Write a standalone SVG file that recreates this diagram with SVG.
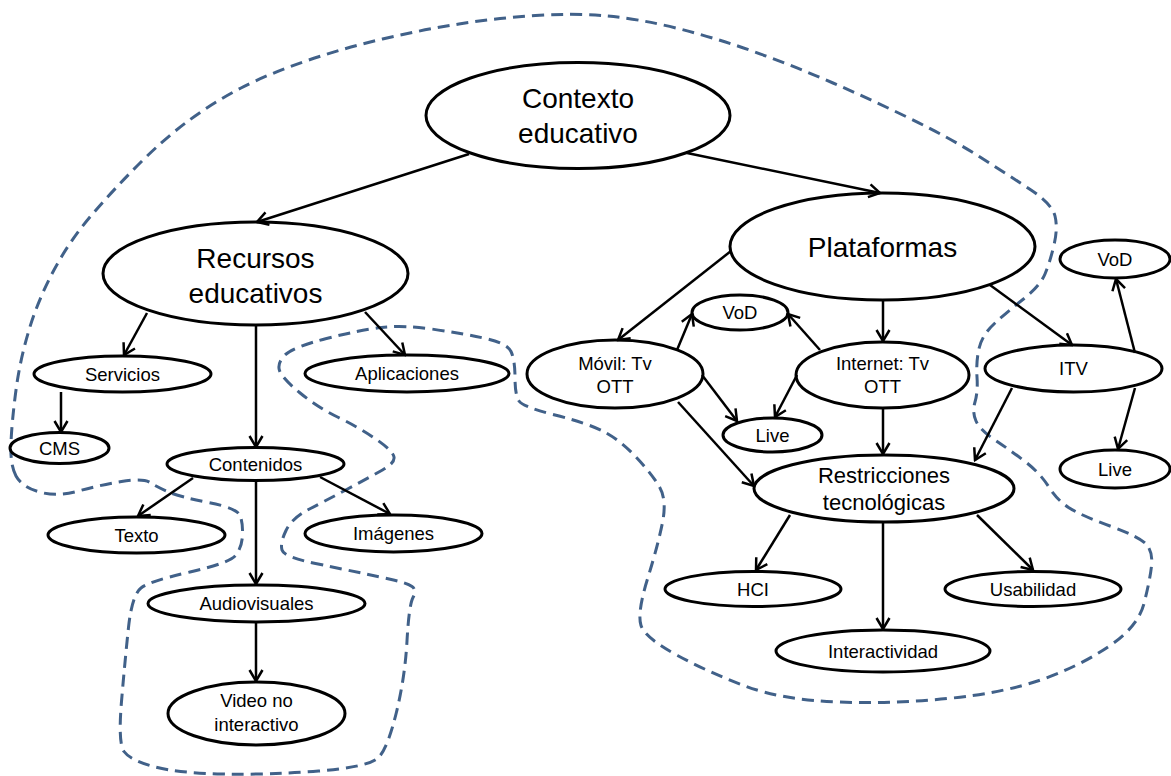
<svg xmlns="http://www.w3.org/2000/svg" width="1171" height="776" viewBox="0 0 1171 776">
  <defs>
    <style>
      .node ellipse { fill: #fff; stroke: #000; stroke-width: 3; }
      text { font-family: "Liberation Sans", Arial, sans-serif; fill: #000; text-anchor: middle; }
      .l { font-size: 28px; }
      .m { font-size: 22px; }
      .s { font-size: 18.5px; }
      #connectors line { stroke: #000; stroke-width: 2.5; marker-end: url(#arr); }
      .zone { fill: none; stroke: #416189; stroke-width: 3; stroke-dasharray: 12 7; stroke-linecap: butt; }
    </style>
    <marker id="arr" markerUnits="userSpaceOnUse" markerWidth="14" markerHeight="16" refX="12" refY="8" orient="auto" viewBox="0 0 14 16">
      <path d="M1,1.5 L12,8 L1,14.5" fill="none" stroke="#000" stroke-width="2.5" stroke-linejoin="miter"/>
    </marker>
  </defs>

  <rect width="1171" height="776" fill="#fff"/>

  <!-- dashed boundary enclosing the grouped concepts -->
  <path class="zone" d="M16,476
    Q10,465 11,442.5 Q12,420 16,390 Q20,360 29,330 Q38,300 54,270 Q70,240 92.5,214
    Q115,188 140,163 Q165,138 189.5,120 Q214,102 241,88 Q268,74 306,61 Q344,48 382.5,39
    Q421,30 459,24 Q497,18 535.5,15.5 Q574,13 607,16 Q640,19 678,28.5 Q716,38 755,52
    Q794,66 833,83 Q872,100 911,119 Q950,138 980,157 Q1010,176 1031,190 Q1052,204 1055,216
    Q1058,228 1054,245 Q1050,262 1045,274 Q1040,286 1023.5,299 Q1007,312 994.5,323.5
    Q982,335 979,348.5 Q976,362 977,377 Q978,392 975,402 Q972,412 976,421 Q980,430 995,440
    Q1010,450 1025,461.5 Q1040,473 1048.5,486.5 Q1057,500 1068.5,507.5 Q1080,515 1110,526
    Q1140,537 1146.5,544.5 Q1153,552 1151.5,566 Q1150,580 1144,603.5 Q1138,627 1108,647
    Q1078,667 1040.5,680 Q1003,693 948,698.5 Q893,704 838,702 Q783,700 746.5,686.5
    Q710,673 677.5,655.5 Q645,638 641,625.5 Q637,613 647.5,579 Q658,545 662.5,522.5
    Q667,500 659.5,487 Q652,474 636,457 Q620,440 603.5,431.5 Q587,423 555,415
    Q523,407 519,401 Q515,395 515,377.5 Q515,360 511,351.5 Q507,343 483.5,338
    Q460,333 431.5,329 Q403,325 381.5,327.5 Q360,330 326.5,338.5 Q293,347 285,355
    Q277,363 279.5,370.5 Q282,378 299.5,392.5 Q317,407 338.5,417.5 Q360,428 376.5,439.5
    Q393,451 394,457 Q395,463 382.5,470 Q370,477 348.5,488.5 Q327,500 309.5,509
    Q292,518 286,530.5 Q280,543 282,550 Q284,557 315.5,563.5 Q347,570 363.5,573.5
    Q380,577 393.5,580 Q407,583 412,586.5 Q417,590 413,597.5 Q409,605 407,641
    Q405,677 396.5,712 Q388,747 379,757 Q370,767 318.5,771 Q267,775 222,774
    Q177,773 153.5,766.5 Q130,760 124,751.5 Q118,743 121.5,701.5 Q125,660 128.5,627.5
    Q132,595 141,588 Q150,581 190,572 Q230,563 236,555 Q242,547 242.5,535
    Q243,523 240,515.5 Q237,508 208.5,502.5 Q180,497 168.5,492 Q157,487 150,482.5
    Q143,478 121.5,481.5 Q100,485 78.5,491 Q57,497 39.5,492 Q22,487 16,476 Z"/>

  <!-- nodes -->
  <g id="contexto" class="node">
    <ellipse cx="578" cy="115.5" rx="152" ry="53"/>
    <text class="l" x="578" y="108">Contexto</text>
    <text class="l" x="578" y="143">educativo</text>
  </g>
  <g id="recursos" class="node">
    <ellipse cx="255.5" cy="273.5" rx="152.5" ry="51.5"/>
    <text class="l" x="255.5" y="268">Recursos</text>
    <text class="l" x="255.5" y="303">educativos</text>
  </g>
  <g id="plataformas" class="node">
    <ellipse cx="882.5" cy="246.5" rx="152.5" ry="53.5"/>
    <text class="l" x="882.5" y="257">Plataformas</text>
  </g>
  <g id="servicios" class="node">
    <ellipse cx="122.5" cy="374" rx="88.5" ry="18"/>
    <text class="s" x="122.5" y="380.5">Servicios</text>
  </g>
  <g id="aplicaciones" class="node">
    <ellipse cx="407" cy="373.5" rx="102" ry="18.5"/>
    <text class="s" x="407" y="380">Aplicaciones</text>
  </g>
  <g id="cms" class="node">
    <ellipse cx="59.5" cy="448" rx="49.5" ry="15.5"/>
    <text class="s" x="59.5" y="454.5">CMS</text>
  </g>
  <g id="contenidos" class="node">
    <ellipse cx="255.5" cy="464" rx="88.5" ry="16.5"/>
    <text class="s" x="255.5" y="470.5">Contenidos</text>
  </g>
  <g id="texto" class="node">
    <ellipse cx="136.5" cy="535" rx="88.5" ry="18"/>
    <text class="s" x="136.5" y="541.5">Texto</text>
  </g>
  <g id="imagenes" class="node">
    <ellipse cx="393.5" cy="533.5" rx="88.5" ry="18.5"/>
    <text class="s" x="393.5" y="540">Imágenes</text>
  </g>
  <g id="audiovisuales" class="node">
    <ellipse cx="256.5" cy="603.5" rx="108.5" ry="18.5"/>
    <text class="s" x="256.5" y="610">Audiovisuales</text>
  </g>
  <g id="video" class="node">
    <ellipse cx="256.5" cy="713.5" rx="88.5" ry="31.5"/>
    <text class="s" x="256.5" y="707">Video no</text>
    <text class="s" x="256.5" y="731">interactivo</text>
  </g>
  <g id="movil" class="node">
    <ellipse cx="615" cy="374" rx="88" ry="34"/>
    <text class="s" x="615" y="370">Móvil: Tv</text>
    <text class="s" x="615" y="393">OTT</text>
  </g>
  <g id="vod-ott" class="node">
    <ellipse cx="740" cy="312.5" rx="48" ry="17.5"/>
    <text class="s" x="740" y="319">VoD</text>
  </g>
  <g id="internet" class="node">
    <ellipse cx="882.5" cy="375" rx="86.5" ry="33"/>
    <text class="s" x="882.5" y="370">Internet: Tv</text>
    <text class="s" x="882.5" y="393">OTT</text>
  </g>
  <g id="live-ott" class="node">
    <ellipse cx="772.5" cy="435" rx="49.5" ry="17"/>
    <text class="s" x="772.5" y="441.5">Live</text>
  </g>
  <g id="itv" class="node">
    <ellipse cx="1073.5" cy="368.5" rx="88.5" ry="23.5"/>
    <text class="s" x="1073.5" y="375">ITV</text>
  </g>
  <g id="vod-itv" class="node">
    <ellipse cx="1115" cy="259" rx="55" ry="19"/>
    <text class="s" x="1115" y="265.5">VoD</text>
  </g>
  <g id="live-itv" class="node">
    <ellipse cx="1115" cy="469" rx="55" ry="19"/>
    <text class="s" x="1115" y="475.5">Live</text>
  </g>
  <g id="restricciones" class="node">
    <ellipse cx="884" cy="488.5" rx="130" ry="33.5"/>
    <text class="m" x="884" y="483">Restricciones</text>
    <text class="m" x="884" y="510">tecnológicas</text>
  </g>
  <g id="hci" class="node">
    <ellipse cx="753" cy="589" rx="88" ry="17.5"/>
    <text class="s" x="753" y="595.5">HCI</text>
  </g>
  <g id="usabilidad" class="node">
    <ellipse cx="1033" cy="589" rx="88" ry="17.5"/>
    <text class="s" x="1033" y="595.5">Usabilidad</text>
  </g>
  <g id="interactividad" class="node">
    <ellipse cx="883" cy="651" rx="107" ry="21"/>
    <text class="s" x="883" y="657.5">Interactividad</text>
  </g>

  <!-- connectors -->
  <g id="connectors">
    <line x1="469" y1="154" x2="257" y2="222"/>
    <line x1="687" y1="153" x2="880" y2="193"/>
    <line x1="147" y1="313" x2="124" y2="355"/>
    <line x1="256" y1="325" x2="256" y2="447"/>
    <line x1="365" y1="312" x2="405" y2="355"/>
    <line x1="61" y1="392" x2="61" y2="432"/>
    <line x1="193" y1="478" x2="138" y2="516"/>
    <line x1="320" y1="477" x2="390" y2="514"/>
    <line x1="256" y1="481" x2="256" y2="584"/>
    <line x1="256" y1="622" x2="256" y2="681"/>
    <line x1="731" y1="251" x2="618" y2="340"/>
    <line x1="883" y1="300" x2="883" y2="341"/>
    <line x1="990" y1="285" x2="1072" y2="345"/>
    <line x1="677" y1="350" x2="692" y2="314"/>
    <line x1="820" y1="350" x2="788" y2="314"/>
    <line x1="702" y1="375" x2="737" y2="421"/>
    <line x1="797" y1="375" x2="775" y2="417"/>
    <line x1="678" y1="402" x2="754" y2="486"/>
    <line x1="883" y1="408" x2="883" y2="454"/>
    <line x1="1012" y1="388" x2="975" y2="460"/>
    <line x1="1135" y1="353" x2="1116" y2="279"/>
    <line x1="1135" y1="388" x2="1118" y2="449"/>
    <line x1="790" y1="515" x2="756" y2="570"/>
    <line x1="883" y1="522" x2="883" y2="629"/>
    <line x1="977" y1="515" x2="1033" y2="570"/>
  </g>
</svg>
